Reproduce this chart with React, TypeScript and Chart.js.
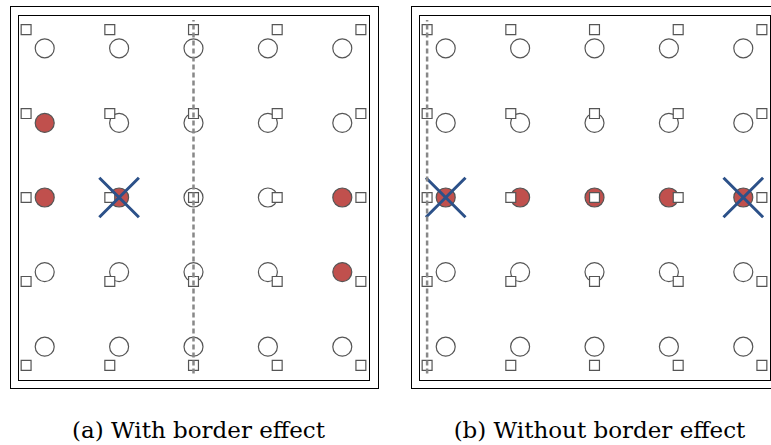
import React, { useEffect, useRef } from "react";
import { Chart, registerables } from "chart.js";

Chart.register(...registerables);

// circle centres (data units), columns left→right, rows top→bottom
const circleCols = [-2, -1, 0, 1, 2];
const circleRows = [2, 1, 0, -1, -2];
// square sample points (data units)
const sampleCols = [-2.25, -1.125, 0, 1.125, 2.25];
const sampleRows = [2.25, 1.125, 0, -1.125, -2.25];

// highlighted (red) circles as [col, row]
const highlightedA = [[0, 1], [0, 2], [1, 2], [4, 2], [4, 3]];
const highlightedB = [[0, 2], [1, 2], [2, 2], [3, 2], [4, 2]];
// blue crosses as [col, row]
const crossesA = [[1, 2]];
const crossesB = [[0, 2], [4, 2]];
// dashed vertical line x-position (data units) and its vertical span
const dashedLineA = 0;
const dashedLineB = -2.25;
const dashedSpan = [-2.36, 2.38];

const captionA = "(a) With border effect";
const captionB = "(b) Without border effect";

const RED = "#c0504d";
const BLUE = "#2c5189";

const framePlugin = {
  id: "frames",
  beforeDatasetsDraw(chart: any) {
    const { ctx, chartArea: a } = chart;
    ctx.save();
    ctx.strokeStyle = "#000";
    ctx.lineWidth = 1;
    ctx.strokeRect(a.left + 0.5, a.top + 0.5, a.right - a.left, a.bottom - a.top);
    ctx.strokeRect(a.left - 8 + 0.5, a.top - 9 + 0.5, a.right - a.left + 17, a.bottom - a.top + 17);
    ctx.restore();
  },
};

function makeConfig(highlighted: number[][], crosses: number[][], lineX: number, padL: number, padR: number): any {
  const circles: any[] = [];
  const fills: string[] = [];
  circleRows.forEach((y, r) =>
    circleCols.forEach((x, c) => {
      circles.push({ x, y });
      fills.push(highlighted.some(([hc, hr]) => hc === c && hr === r) ? RED : "#ffffff");
    })
  );
  const squares: any[] = [];
  sampleRows.forEach((y) => sampleCols.forEach((x) => squares.push({ x, y })));
  const crossPts = crosses.map(([c, r]) => ({ x: circleCols[c], y: circleRows[r] }));
  return {
    type: "scatter",
    data: {
      datasets: [
        {
          data: [
            { x: lineX, y: dashedSpan[0] },
            { x: lineX, y: dashedSpan[1] },
          ],
          showLine: true,
          borderColor: "#888888",
          borderWidth: 2.5,
          borderDash: [5, 3],
          pointRadius: 0,
          order: 0,
          clip: false,
        },
        {
          data: crossPts,
          pointStyle: "crossRot",
          pointRadius: 28,
          borderColor: BLUE,
          borderWidth: 3,
          order: 1,
          clip: false,
        },
        {
          data: squares,
          pointStyle: "rect",
          pointRadius: 7,
          backgroundColor: "#ffffff",
          borderColor: "#555555",
          borderWidth: 1.2,
          order: 2,
          clip: false,
        },
        {
          data: circles,
          pointStyle: "circle",
          pointRadius: 9.5,
          backgroundColor: fills,
          borderColor: "#555555",
          borderWidth: 1.2,
          order: 3,
          clip: false,
        },
      ],
    },
    options: {
      responsive: false,
      animation: false,
      events: [],
      layout: { autoPadding: false, padding: { left: padL, right: padR, top: 15, bottom: 20 } },
      plugins: { legend: { display: false }, tooltip: { enabled: false } },
      scales: {
        x: { type: "linear", min: -2.359, max: 2.359, display: false },
        y: { type: "linear", min: -2.446, max: 2.446, display: false },
      },
    },
    plugins: [framePlugin],
  };
}

function Panel(props: { left: number; width: number; padL: number; padR: number; highlighted: number[][]; crosses: number[][]; lineX: number }) {
  const ref = useRef<HTMLCanvasElement>(null);
  useEffect(() => {
    const chart = new Chart(ref.current as HTMLCanvasElement, makeConfig(props.highlighted, props.crosses, props.lineX, props.padL, props.padR));
    return () => chart.destroy();
  }, []);
  return (
    <canvas
      ref={ref}
      width={props.width}
      height={400}
      style={{ position: "absolute", left: props.left, top: 0, width: props.width, height: 400, display: "block" }}
    />
  );
}

const captionStyle: any = {
  position: "absolute",
  top: 416,
  fontFamily: "'DejaVu Serif', serif",
  fontSize: 23,
  lineHeight: "28px",
  textAlign: "center",
  color: "#000",
  whiteSpace: "nowrap",
};

export default function App() {
  return (
    <div style={{ position: "absolute", left: 0, top: 0, width: 771, height: 445, background: "#fff", overflow: "hidden" }}>
      <Panel left={0} width={390} padL={18} padR={21} highlighted={highlightedA} crosses={crossesA} lineX={dashedLineA} />
      <Panel left={400} width={371} padL={19} padR={1} highlighted={highlightedB} crosses={crossesB} lineX={dashedLineB} />
      <div style={{ ...captionStyle, left: 0, width: 397 }}>{captionA}</div>
      <div style={{ ...captionStyle, left: 428, width: 343 }}>{captionB}</div>
    </div>
  );
}
